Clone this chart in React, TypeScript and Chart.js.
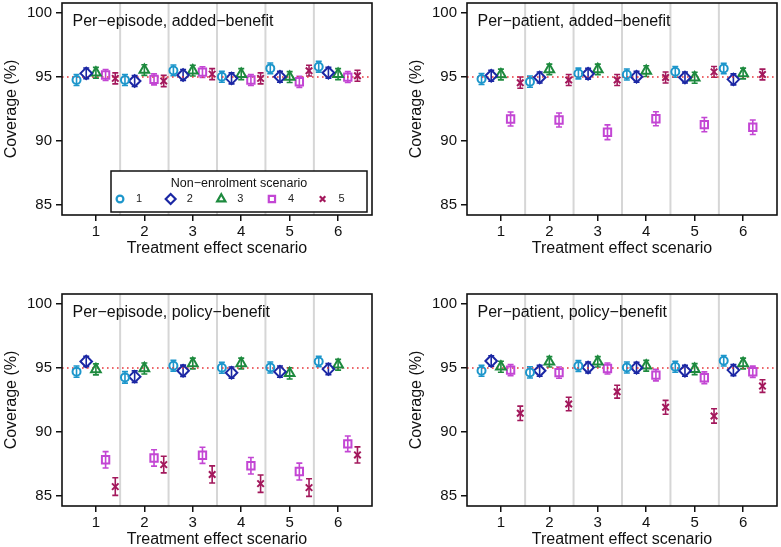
import React, { useEffect, useRef } from "react";
import { Chart, registerables } from "chart.js";
import { drawPoint } from "chart.js/helpers";

Chart.register(...registerables);

// ---------- data ----------
const treatmentScenarios = [1, 2, 3, 4, 5, 6];
const separatorPositions = [1.5, 2.5, 3.5, 4.5, 5.5];
const yTickValues = [85, 90, 95, 100];
const nominalCoverage = 95;
const seriesLabels = ["1", "2", "3", "4", "5"];
const seriesOffsets = [-0.4, -0.2, 0, 0.2, 0.4];

// Per-episode, added-benefit
const epAdded1 = [94.77, 94.77, 95.52, 95.03, 95.68, 95.81];
const epAdded2 = [95.29, 94.69, 95.16, 94.9, 95.03, 95.34];
const epAdded3 = [95.34, 95.55, 95.5, 95.23, 95.0, 95.23];
const epAdded4 = [95.16, 94.82, 95.39, 94.77, 94.63, 95.0];
const epAdded5 = [94.9, 94.69, 95.23, 94.9, 95.5, 95.1];
const epAddedErr1 = [0.43, 0.43, 0.42, 0.43, 0.42, 0.42];
const epAddedErr2 = [0.42, 0.43, 0.43, 0.43, 0.43, 0.42];
const epAddedErr3 = [0.42, 0.42, 0.42, 0.43, 0.43, 0.43];
const epAddedErr4 = [0.43, 0.43, 0.42, 0.43, 0.44, 0.43];
const epAddedErr5 = [0.43, 0.44, 0.43, 0.43, 0.42, 0.43];

// Per-patient, added-benefit
const ptAdded1 = [94.85, 94.64, 95.28, 95.2, 95.41, 95.67];
const ptAdded2 = [95.1, 94.97, 95.26, 95.03, 94.97, 94.82];
const ptAdded3 = [95.2, 95.6, 95.6, 95.47, 94.95, 95.28];
const ptAdded4 = [91.72, 91.64, 90.68, 91.74, 91.28, 91.07];
const ptAdded5 = [94.56, 94.77, 94.77, 94.97, 95.41, 95.2];
const ptAddedErr1 = [0.43, 0.44, 0.42, 0.43, 0.42, 0.41];
const ptAddedErr2 = [0.43, 0.43, 0.42, 0.43, 0.43, 0.43];
const ptAddedErr3 = [0.42, 0.41, 0.41, 0.42, 0.43, 0.42];
const ptAddedErr4 = [0.55, 0.55, 0.58, 0.55, 0.56, 0.57];
const ptAddedErr5 = [0.44, 0.43, 0.43, 0.43, 0.42, 0.42];

// Per-episode, policy-benefit
const epPolicy1 = [94.72, 94.27, 95.18, 95.03, 95.05, 95.52];
const epPolicy2 = [95.52, 94.33, 94.79, 94.64, 94.72, 94.92];
const epPolicy3 = [94.9, 94.97, 95.36, 95.36, 94.59, 95.26];
const epPolicy4 = [87.82, 87.96, 88.17, 87.35, 86.9, 89.07];
const epPolicy5 = [85.72, 87.44, 86.67, 85.95, 85.64, 88.2];
const epPolicyErr1 = [0.44, 0.45, 0.42, 0.43, 0.43, 0.41];
const epPolicyErr2 = [0.41, 0.45, 0.44, 0.44, 0.44, 0.43];
const epPolicyErr3 = [0.43, 0.43, 0.42, 0.42, 0.44, 0.42];
const epPolicyErr4 = [0.64, 0.64, 0.63, 0.65, 0.66, 0.61];
const epPolicyErr5 = [0.69, 0.65, 0.67, 0.68, 0.69, 0.63];

// Per-patient, policy-benefit
const ptPolicy1 = [94.79, 94.66, 95.16, 95.05, 95.1, 95.57];
const ptPolicy2 = [95.55, 94.79, 95.05, 95.03, 94.79, 94.84];
const ptPolicy3 = [95.1, 95.49, 95.49, 95.18, 94.92, 95.36];
const ptPolicy4 = [94.84, 94.64, 94.97, 94.45, 94.24, 94.71];
const ptPolicy5 = [91.46, 92.19, 93.15, 91.93, 91.25, 93.59];
const ptPolicyErr1 = [0.43, 0.44, 0.42, 0.43, 0.43, 0.41];
const ptPolicyErr2 = [0.41, 0.43, 0.43, 0.43, 0.43, 0.43];
const ptPolicyErr3 = [0.43, 0.41, 0.41, 0.42, 0.43, 0.42];
const ptPolicyErr4 = [0.43, 0.44, 0.43, 0.45, 0.46, 0.44];
const ptPolicyErr5 = [0.56, 0.53, 0.5, 0.54, 0.56, 0.49];

// ---------- styles ----------
const FONT = "'Liberation Sans', Arial, Helvetica, sans-serif";
const seriesColors = ["#1d96cb", "#1b27a4", "#1d8a3e", "#c346d4", "#a3185c"];
const seriesStyles = ["circle", "rectRot", "triangle", "rect", "crossRot"];
const seriesRadii = [4, 5.8, 5.6, 5.2, 4.6];
const X_MIN = 0.3;
const X_MAX = 6.7;
const Y_MIN = 84.2;
const Y_MAX = 100.8;

type PanelProps = {
  title: string;
  series: number[][];
  errors: number[][];
  showLegend: boolean;
  left: number;
  top: number;
};

function zeroPadding(s: any) {
  s.paddingLeft = 0;
  s.paddingRight = 0;
  s.paddingTop = 0;
  s.paddingBottom = 0;
  if (s._margins) {
    s._margins.left = 0;
    s._margins.right = 0;
    s._margins.top = 0;
    s._margins.bottom = 0;
  }
}

function Panel({ title, series, errors, showLegend, left, top }: PanelProps) {
  const ref = useRef<HTMLCanvasElement | null>(null);

  useEffect(() => {
    if (!ref.current) return;

    const pointDatasets = series.map((vals, si) => ({
      type: "scatter" as const,
      label: seriesLabels[si],
      data: vals.map((v, i) => ({
        x: treatmentScenarios[i] + seriesOffsets[si],
        y: v,
        err: errors[si][i],
      })),
      pointStyle: seriesStyles[si],
      pointRadius: seriesRadii[si],
      pointBorderWidth: 2,
      pointBorderColor: seriesColors[si],
      pointBackgroundColor: "rgba(0,0,0,0)",
      borderColor: seriesColors[si],
      backgroundColor: "rgba(0,0,0,0)",
      order: 0,
    }));

    const refLine = {
      type: "line" as const,
      label: "nominal",
      data: [
        { x: X_MIN, y: nominalCoverage },
        { x: X_MAX, y: nominalCoverage },
      ],
      borderColor: "#e8363b",
      borderWidth: 1.6,
      borderDash: [1.6, 3.4],
      pointRadius: 0,
      fill: false,
      order: 5,
    };

    const panelPlugin = {
      id: "panelDecor",
      beforeDatasetsDraw(chart: any) {
        const { ctx, chartArea, scales } = chart;
        const xs = scales.x;
        const ys = scales.y;
        ctx.save();
        // separators
        ctx.strokeStyle = "#d6d6d6";
        ctx.lineWidth = 2;
        separatorPositions.forEach((p) => {
          const px = xs.getPixelForValue(p);
          ctx.beginPath();
          ctx.moveTo(px, chartArea.top);
          ctx.lineTo(px, chartArea.bottom);
          ctx.stroke();
        });
        // error bars
        chart.data.datasets.forEach((ds: any) => {
          if (ds.type !== "scatter") return;
          ctx.strokeStyle = ds.pointBorderColor;
          ctx.lineWidth = 1.6;
          ds.data.forEach((d: any) => {
            const px = xs.getPixelForValue(d.x);
            const y1 = ys.getPixelForValue(d.y - d.err);
            const y2 = ys.getPixelForValue(d.y + d.err);
            ctx.beginPath();
            ctx.moveTo(px, y1);
            ctx.lineTo(px, y2);
            ctx.moveTo(px - 3, y1);
            ctx.lineTo(px + 3, y1);
            ctx.moveTo(px - 3, y2);
            ctx.lineTo(px + 3, y2);
            ctx.stroke();
          });
        });
        ctx.restore();
      },
      afterDraw(chart: any) {
        const { ctx, chartArea } = chart;
        ctx.save();
        // panel title
        ctx.fillStyle = "#111";
        ctx.font = `16px ${FONT}`;
        ctx.textAlign = "left";
        ctx.textBaseline = "middle";
        ctx.fillText(title, chartArea.left + 10.5, chartArea.top + 19);

        // legend
        if (showLegend) {
          const bl = chartArea.left + 49;
          const br = chartArea.right - 5;
          const bt = chartArea.bottom - 44;
          const bb = chartArea.bottom - 3;
          ctx.fillStyle = "#fff";
          ctx.fillRect(bl, bt, br - bl, bb - bt);
          ctx.strokeStyle = "#111";
          ctx.lineWidth = 1.5;
          ctx.strokeRect(bl, bt, br - bl, bb - bt);
          ctx.fillStyle = "#111";
          ctx.font = `12.5px ${FONT}`;
          ctx.textAlign = "center";
          ctx.fillText("Non\u2212enrolment scenario", (bl + br) / 2, bt + 12.5);
          const step = (br - bl - 18) / 4.7;
          seriesLabels.forEach((lab, si) => {
            const mx = bl + 9 + si * step;
            const my = bt + 28;
            ctx.strokeStyle = seriesColors[si];
            ctx.fillStyle = "rgba(0,0,0,0)";
            ctx.lineWidth = 2.2;
            drawPoint(
              ctx,
              {
                pointStyle: seriesStyles[si],
                rotation: 0,
                radius: seriesRadii[si] * 0.85,
                borderWidth: 2.2,
              } as any,
              mx,
              my
            );
            ctx.fillStyle = "#222";
            ctx.font = `11px ${FONT}`;
            ctx.textAlign = "left";
            ctx.fillText(lab, mx + 16, my);
          });
        }

        // frame
        ctx.strokeStyle = "#111";
        ctx.lineWidth = 1.6;
        ctx.strokeRect(
          chartArea.left,
          chartArea.top,
          chartArea.right - chartArea.left,
          chartArea.bottom - chartArea.top
        );
        ctx.restore();
      },
    };

    const chart = new Chart(ref.current, {
      type: "scatter",
      data: { datasets: [...pointDatasets, refLine] as any },
      options: {
        responsive: false,
        animation: false,
        devicePixelRatio: 1,
        layout: { autoPadding: false, padding: { top: 3, right: 4, left: 0, bottom: 0 } },
        plugins: {
          legend: { display: false },
          tooltip: { enabled: false },
        },
        scales: {
          x: {
            type: "linear",
            min: X_MIN,
            max: X_MAX,
            afterBuildTicks: (s: any) => {
              s.ticks = treatmentScenarios.map((v) => ({ value: v }));
            },
            afterFit: (s: any) => {
              s.height = 43;
              zeroPadding(s);
            },
            grid: {
              drawOnChartArea: false,
              drawTicks: true,
              tickLength: 6,
              color: "#111",
              lineWidth: 1.5,
            },
            border: { display: false },
            ticks: {
              color: "#111",
              font: { family: FONT, size: 15 },
              padding: 2,
              maxRotation: 0,
              autoSkip: false,
            },
            title: {
              display: true,
              text: "Treatment effect scenario",
              color: "#111",
              font: { family: FONT, size: 16 },
              padding: { top: 0, bottom: 0 },
            },
          },
          y: {
            type: "linear",
            min: Y_MIN,
            max: Y_MAX,
            afterBuildTicks: (s: any) => {
              s.ticks = yTickValues.map((v) => ({ value: v }));
            },
            afterFit: (s: any) => {
              s.width = 62;
              zeroPadding(s);
            },
            grid: {
              drawOnChartArea: false,
              drawTicks: true,
              tickLength: 6,
              color: "#111",
              lineWidth: 1.5,
            },
            border: { display: false },
            ticks: {
              color: "#111",
              font: { family: FONT, size: 15 },
              padding: 4,
            },
            title: {
              display: true,
              text: "Coverage (%)",
              color: "#111",
              font: { family: FONT, size: 16 },
              padding: { top: 1.5, bottom: 0 },
            },
          },
        },
      } as any,
      plugins: [panelPlugin],
    });

    return () => chart.destroy();
  }, [title, series, errors, showLegend]);

  return (
    <canvas
      ref={ref}
      width={376}
      height={258}
      style={{ position: "absolute", left, top, width: 376, height: 258 }}
    />
  );
}

export default function App() {
  return (
    <div
      style={{
        position: "absolute",
        left: 0,
        top: 0,
        width: 781,
        height: 547,
        background: "#fff",
        overflow: "hidden",
      }}
    >
      <Panel
        title={"Per\u2212episode, added\u2212benefit"}
        series={[epAdded1, epAdded2, epAdded3, epAdded4, epAdded5]}
        errors={[epAddedErr1, epAddedErr2, epAddedErr3, epAddedErr4, epAddedErr5]}
        showLegend={true}
        left={0}
        top={0}
      />
      <Panel
        title={"Per\u2212patient, added\u2212benefit"}
        series={[ptAdded1, ptAdded2, ptAdded3, ptAdded4, ptAdded5]}
        errors={[ptAddedErr1, ptAddedErr2, ptAddedErr3, ptAddedErr4, ptAddedErr5]}
        showLegend={false}
        left={405}
        top={0}
      />
      <Panel
        title={"Per\u2212episode, policy\u2212benefit"}
        series={[epPolicy1, epPolicy2, epPolicy3, epPolicy4, epPolicy5]}
        errors={[epPolicyErr1, epPolicyErr2, epPolicyErr3, epPolicyErr4, epPolicyErr5]}
        showLegend={false}
        left={0}
        top={291}
      />
      <Panel
        title={"Per\u2212patient, policy\u2212benefit"}
        series={[ptPolicy1, ptPolicy2, ptPolicy3, ptPolicy4, ptPolicy5]}
        errors={[ptPolicyErr1, ptPolicyErr2, ptPolicyErr3, ptPolicyErr4, ptPolicyErr5]}
        showLegend={false}
        left={405}
        top={291}
      />
    </div>
  );
}
